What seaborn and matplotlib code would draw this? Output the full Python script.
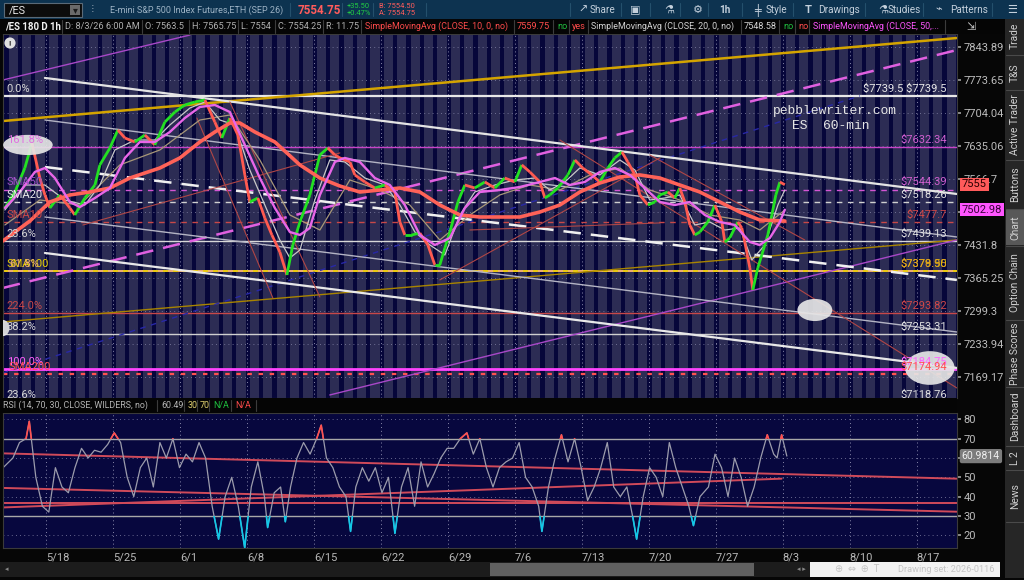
import numpy as np
import pandas as pd
import seaborn as sns
import matplotlib.pyplot as plt
from matplotlib.collections import LineCollection
from matplotlib.patches import Rectangle, Ellipse
from matplotlib.ticker import FixedLocator, FixedFormatter, NullLocator, NullFormatter

# ---------------- data ----------------
# x = trading days after Mon 5/18, prices in index points
week_days = [0, 5, 10, 15, 20, 25, 30, 35, 40, 45, 50, 55, 60, 65]
week_labels = ['5/18', '5/25', '6/1', '6/8', '6/15', '6/22', '6/29',
               '7/6', '7/13', '7/20', '7/27', '8/3', '8/10', '8/17']

# 7498.94 sits under the 7502.98 marker, so its label is left blank
price_ticks = [7843.89, 7773.65, 7704.04, 7635.06, 7566.7, 7498.94,
               7431.8, 7365.25, 7299.3, 7233.94, 7169.17]
price_tick_labels = ['7843.89', '7773.65', '7704.04', '7635.06', '7566.7', '',
                     '7431.8', '7365.25', '7299.3', '7233.94', '7169.17']

price_day = [-3.06, -2.31, -1.57, -1.04, -0.45, -0.07, 0.30, 1.04, 1.79, 2.16, 2.91, 3.66,
             4.03, 4.78, 5.37, 5.90, 6.64, 7.39, 8.13, 8.88, 9.63, 10.37, 11.12, 11.87,
             12.61, 13.13, 13.73, 14.33, 14.85, 15.22, 15.82, 16.34, 16.87, 17.46, 17.99,
             18.43, 18.96, 19.70, 20.45, 21.04, 21.57, 21.94, 22.69, 23.06, 23.81, 24.55,
             25.30, 26.04, 26.42, 26.79, 27.31, 27.91, 28.51, 29.03, 29.40, 29.78, 30.15,
             30.75, 31.27, 32.01, 32.76, 33.51, 34.25, 35.00, 35.52, 36.12, 36.87, 37.24,
             37.61, 38.21, 38.96, 39.48, 40.07, 40.75, 41.34, 41.94, 42.46, 42.99, 43.43,
             43.96, 44.33, 44.93, 45.45, 45.82, 46.42, 46.94, 47.31, 47.69, 48.06, 48.43,
             48.81, 49.40, 49.93, 50.45, 50.67, 51.04, 51.64, 51.94, 52.16, 52.54, 52.76,
             53.13, 53.43, 53.88, 54.18, 54.48, 54.78, 55.15]
price_close = [7506.5, 7539.3, 7588.8, 7640.7, 7568.1, 7533.2, 7506.5, 7533.2, 7506.5, 7492.2,
               7527.0, 7553.7, 7595.1, 7630.3, 7667.8, 7651.1, 7642.8, 7657.4, 7636.6, 7684.5,
               7705.5, 7720.3, 7726.6, 7730.8, 7684.5, 7651.1, 7692.9, 7657.4, 7574.4, 7518.8,
               7527.0, 7486.1, 7451.5, 7417.0, 7370.7, 7431.2, 7477.9, 7533.2, 7615.8, 7630.3,
               7615.8, 7609.6, 7601.3, 7574.4, 7559.9, 7547.5, 7553.7, 7539.3, 7477.9, 7451.5,
               7451.5, 7455.5, 7431.2, 7390.8, 7390.8, 7425.1, 7457.5, 7518.8, 7553.7, 7547.5,
               7559.9, 7547.5, 7568.1, 7559.9, 7595.1, 7580.6, 7559.9, 7527.0, 7533.2, 7547.5,
               7574.4, 7605.4, 7588.8, 7574.4, 7559.9, 7588.8, 7609.6, 7622.0, 7601.3, 7574.4,
               7533.2, 7512.6, 7518.8, 7533.2, 7539.3, 7527.0, 7547.5, 7518.8, 7471.8, 7451.5,
               7457.5, 7477.9, 7512.6, 7477.9, 7437.2, 7445.4, 7477.9, 7465.7, 7437.2, 7384.7,
               7340.6, 7384.7, 7411.0, 7451.5, 7492.2, 7533.2, 7559.9, 7554.25]

ma_thick_day = [-3.21, -1.19, 0.30, 1.79, 3.28, 4.78, 6.27, 8.51, 10.00, 11.49, 12.61, 13.73,
                14.48, 15.60, 17.09, 18.96, 20.45, 21.94, 23.43, 24.93, 26.42, 27.91, 29.40,
                30.90, 32.39, 33.88, 35.37, 36.87, 38.36, 39.85, 41.34, 42.84, 44.33, 45.82,
                47.31, 48.81, 50.30, 51.79, 53.28, 55.15]
ma_thick_val = [7439.3, 7480.0, 7518.8, 7533.2, 7539.3, 7547.5, 7568.1, 7588.8, 7609.6, 7642.8,
                7663.6, 7682.4, 7682.4, 7663.6, 7642.8, 7595.1, 7568.1, 7551.6, 7539.3, 7543.4,
                7547.5, 7539.3, 7512.6, 7492.2, 7488.1, 7488.1, 7488.1, 7498.3, 7512.6, 7539.3,
                7557.8, 7570.2, 7574.4, 7568.1, 7553.7, 7539.3, 7518.8, 7498.3, 7482.0, 7480.0]

ma_pink_day = [-3.06, -1.94, -0.82, -0.07, 0.67, 1.79, 2.54, 3.66, 4.78, 5.90, 7.01, 8.13, 9.25,
               10.37, 11.49, 12.61, 13.73, 14.85, 15.97, 17.09, 18.21, 18.96, 19.70, 20.45,
               21.57, 22.31, 23.43, 24.55, 25.67, 26.79, 27.91, 29.03, 30.15, 31.27, 32.39,
               33.88, 35.37, 36.87, 37.99, 39.10, 40.22, 41.34, 42.46, 43.58, 44.70, 45.82,
               46.94, 48.06, 49.18, 50.30, 51.42, 52.54, 53.28, 54.03, 54.78, 55.15]
ma_pink_val = [7506.5, 7539.3, 7580.6, 7588.8, 7568.1, 7518.8, 7508.5, 7527.0, 7547.5, 7609.6,
               7642.8, 7642.8, 7663.6, 7692.9, 7716.0, 7720.3, 7705.5, 7636.6, 7568.1, 7506.5,
               7457.5, 7451.5, 7465.7, 7533.2, 7601.3, 7609.6, 7601.3, 7568.1, 7553.7, 7512.6,
               7451.5, 7431.2, 7445.4, 7506.5, 7539.3, 7543.4, 7549.6, 7559.9, 7568.1, 7553.7,
               7559.9, 7580.6, 7588.8, 7574.4, 7547.5, 7518.8, 7512.6, 7518.8, 7492.2, 7477.9,
               7471.8, 7437.2, 7431.2, 7445.4, 7477.9, 7502.98]

ma_gray_day = [-3.06, -1.57, -0.07, 1.42, 2.91, 4.03, 5.15, 6.64, 8.13, 9.25, 10.75, 11.87,
               12.99, 14.10, 15.22, 16.34, 17.46, 18.21, 18.96, 20.07, 21.19, 22.31, 23.81,
               25.30, 26.42, 27.54, 28.66, 29.78, 30.90, 32.01, 33.51, 35.00, 36.49, 37.61,
               38.73, 39.85, 41.34, 42.84, 43.96, 45.07, 46.19, 47.31, 48.43, 49.55, 50.67,
               51.79, 52.69, 53.66, 54.63, 55.15]
ma_gray_val = [7502.4, 7553.7, 7553.7, 7522.9, 7512.6, 7553.7, 7626.2, 7646.9, 7646.9, 7678.2,
               7713.9, 7726.6, 7688.7, 7678.2, 7584.7, 7512.6, 7441.3, 7405.0, 7421.0, 7522.9,
               7605.4, 7601.3, 7568.1, 7553.7, 7512.6, 7457.5, 7431.2, 7411.0, 7492.2, 7539.3,
               7553.7, 7564.0, 7568.1, 7543.4, 7559.9, 7588.8, 7574.4, 7605.4, 7584.7, 7522.9,
               7527.0, 7533.2, 7471.8, 7477.9, 7461.6, 7465.7, 7400.9, 7431.2, 7512.6, 7543.4]

ma_tan_day = [-3.06, -0.45, 2.54, 5.52, 8.51, 11.49, 13.73, 15.97, 18.21, 20.45, 22.69, 24.93,
              27.16, 29.40, 31.64, 33.88, 36.12, 38.36, 40.60, 42.84, 45.07, 47.31, 49.55,
              51.79, 53.28, 55.15]
ma_tan_val = [7471.8, 7522.9, 7512.6, 7595.1, 7626.2, 7688.7, 7699.2, 7605.4, 7492.2, 7461.6,
              7564.0, 7543.4, 7512.6, 7441.3, 7492.2, 7533.2, 7553.7, 7543.4, 7574.4, 7588.8,
              7543.4, 7522.9, 7492.2, 7482.0, 7461.6, 7502.4]

# horizontal price levels (right label, left label)
level_price = [7739.5, 7632.34, 7544.39, 7518.26, 7477.7, 7439.13, 7379.5, 7378.95,
               7293.82, 7253.31, 7184.75, 7174.94, 7118.76]
level_right = [r'\$7739.5 \$7739.5', r'\$7632.34', r'\$7544.39', r'\$7518.26', r'\$7477.7',
               r'\$7439.13', r'\$7379.50', r'\$7378.95', r'\$7293.82', r'\$7253.31',
               r'\$7184.75', r'\$7174.94', r'\$7118.76']
level_left = ['0.0%', '161.8%', 'SMA50', 'SMA20', 'SMA10', '23.6%', 'SMA100', '61.8%',
              '224.0%', '38.2%', '100.0%', 'SMA200', '23.6%']

# drawn trend lines: start (day, price) -> end (day, price)
trend_d0 = [-3.21, -3.21, -3.21, -3.21, 21.19, -3.21, -0.07, -0.07, -0.07, -0.07, -0.07,
            11.27, 13.73, 2.76, 29.40, 38.36, 45.07, 31.64]
trend_p0 = [7686.6, 7276.9, 7773.0, 7344.6, 7133.5, 7176.4, 7777.4, 7688.7, 7590.9, 7488.1,
            7415.0, 7692.9, 7726.6, 7471.8, 7360.7, 7646.9, 7615.8, 7461.6]
trend_d1 = [67.99, 67.99, 10.75, 67.99, 67.99, 60.75, 67.99, 67.99, 67.99, 67.99, 67.99,
            16.94, 20.45, 21.94, 45.82, 67.99, 56.64, 45.82]
trend_p1 = [7862.5, 7441.3, 7868.9, 7836.8, 7441.3, 7739.5, 7535.2, 7447.4, 7360.7, 7257.0,
            7186.2, 7324.6, 7326.6, 7620.0, 7609.6, 7147.1, 7441.3, 7476.0]

# marked spots (white ovals)
oval_day = [-1.34, 57.39, 65.97, -3.21]
oval_price = [7636.6, 7300.7, 7186.2, 7264.9]

# RSI(14)
rsi_day = [-3.19, -2.46, -1.97, -1.48, -1.24, -0.75, -0.26, 0.22, 0.71, 1.20,
           1.68, 2.17, 2.66, 3.15, 3.63, 4.12, 4.61, 5.10, 5.58, 6.07,
           6.56, 7.05, 7.53, 8.02, 8.51, 8.99, 9.48, 9.97, 10.46, 10.94,
           11.43, 11.92, 12.41, 12.89, 13.38, 13.87, 14.36, 14.84, 15.33, 15.82,
           16.31, 16.55, 17.04, 17.52, 17.87, 18.26, 18.74, 19.23, 19.72, 20.21,
           20.55, 20.94, 21.42, 21.91, 22.40, 22.74, 23.13, 23.62, 24.10, 24.59,
           25.08, 25.57, 26.05, 26.54, 27.03, 27.52, 28.00, 28.49, 28.98, 29.47,
           29.95, 30.44, 30.93, 31.42, 31.90, 32.39, 32.88, 33.37, 33.85, 34.34,
           34.83, 35.32, 35.80, 36.29, 36.78, 37.02, 37.51, 38.00, 38.48, 38.97,
           39.46, 39.95, 40.43, 40.92, 41.41, 41.90, 42.38, 42.87, 43.36, 43.84,
           44.09, 44.58, 45.06, 45.55, 46.04, 46.53, 47.01, 47.50, 47.99, 48.33,
           48.82, 49.45, 49.94, 50.43, 50.91, 51.40, 51.89, 52.37, 52.86, 53.35,
           53.84, 54.32, 54.57, 54.91, 55.30]
rsi_val = [55, 60, 68, 70, 79, 50, 35, 32, 55, 45,
           42, 55, 65, 60, 64, 63, 67, 73, 68, 50,
           40, 55, 60, 45, 68, 60, 70, 55, 62, 58,
           68, 60, 35, 18, 40, 50, 35, 13.5, 45, 58,
           40, 24, 42, 45, 27, 45, 60, 68, 62, 70,
           77, 60, 55, 45, 40, 22, 45, 55, 48, 55,
           42, 50, 21, 45, 55, 35, 58, 45, 52, 60,
           65, 65, 70, 73, 62, 70, 55, 45, 55, 58,
           60, 68, 50, 45, 35, 22, 45, 60, 72, 58,
           70, 55, 38, 45, 55, 68, 45, 40, 45, 28,
           18, 40, 55, 50, 40, 68, 55, 45, 35, 25,
           40, 45, 62, 55, 40, 60, 50, 35, 45, 60,
           72, 62, 60, 72, 61]
rsi_last = 60.9814
rsi_ticks = [20, 30, 40, 50, 60, 70, 80]
rsi_tick_labels = ['20', '30', '40', '50', '', '70', '80']   # 60 hidden by the value box
rsi_trend_d0 = [-3.19, -3.19, -3.19, -3.19]
rsi_trend_v0 = [62.4, 44.5, 34.4, 36.5]
rsi_trend_d1 = [67.97, 67.97, 54.91, 67.97]
rsi_trend_v1 = [49.3, 32.2, 49.3, 36.5]

# ---------------- styling ----------------
sns.set_theme(style="dark")
plt.rcParams['font.family'] = ['Roboto', 'DejaVu Sans']

W, H = 1024, 580
fig = plt.figure(figsize=(W / 100, H / 100), dpi=100, facecolor='#060606')


def frect(x0, y0, x1, y1, fc, ec='none', lw=0, z=1):
    fig.add_artist(Rectangle((x0 / W, 1 - y1 / H), (x1 - x0) / W, (y1 - y0) / H,
                             transform=fig.transFigure, fc=fc, ec=ec, lw=lw, zorder=z))


def fline(x0, y0, x1, y1, color, lw=0.8):
    fig.add_artist(plt.Line2D([x0 / W, x1 / W], [1 - y0 / H, 1 - y1 / H],
                              transform=fig.transFigure, color=color, lw=lw, zorder=2))


def ftext(x, y, s, **kw):
    kw.setdefault('va', 'center')
    kw.setdefault('fontsize', 7)
    kw.setdefault('color', '#b4b4b4')
    fig.text(x / W, 1 - y / H, s, **kw)


main = fig.add_axes([3 / W, 1 - 398 / H, 954 / W, 364 / H])
rsi = fig.add_axes([3 / W, 1 - 548 / H, 954 / W, 135 / H])

# ---- main price panel ----
main.set_facecolor('#2c2c54')
main.set_yscale('log')
main.set_xlim(-3.2, 68.0)
main.set_ylim(7127.6, 7871.1)
for d in range(-4, 69):
    main.axvspan(d - 0.1, d + 0.22, color='#06063a', lw=0, zorder=0)
for d in week_days:
    main.axvline(d, color='#8888aa', ls=(0, (1, 3)), lw=0.7, zorder=0.5)
    rsi.axvline(d, color='#8888aa', ls=(0, (1, 3)), lw=0.7, zorder=0.5)
for p in price_ticks:
    main.axhline(p, color='#8888aa', ls=(0, (1, 4)), lw=0.6, zorder=0.5)

level_style = [('#e8e8e8', '-', 1.6), ('#c844c8', '-', 1.0), ('#d455d4', (0, (4, 4)), 1.0),
               ('#d0d0d0', (0, (4, 4)), 1.0), ('#c84848', (0, (4, 4)), 1.0), ('#d8d8d8', '-', 1.0),
               ('#f4b070', '-', 1.4), ('#e8d000', (0, (3, 3)), 1.2), ('#c84848', '-', 1.0),
               ('#d0d0d0', '-', 1.0), ('#ff44ff', '-', 2.0), ('#ff5050', (0, (2, 3)), 1.6),
               ('#e0e0e0', '-', 1.0)]
right_col = ['#e8e8e8', '#d060d0', '#d060d0', '#e0e0e0', '#d04848', '#e0e0e0', '#e8c800',
             '#e0a020', '#d04848', '#e0e0e0', '#ff66ff', '#ff5050', '#e0e0e0']
left_col = ['#d8d8d8', '#e070e0', '#a050c8', '#e8e8e8', '#c84848', '#d8d8d8', '#e8d000',
            '#f0b070', '#c84848', '#d8d8d8', '#ff60ff', '#ff5050', '#d8d8d8']
ytr = main.get_yaxis_transform()
for i, p in enumerate(level_price):
    c, ls, lw = level_style[i]
    main.axhline(p, color=c, ls=ls, lw=lw, zorder=2)
    main.annotate(level_right[i], xy=(0.9895, p), xycoords=ytr, xytext=(0, 1.5),
                  textcoords='offset points', ha='right', va='bottom', fontsize=8,
                  color=right_col[i], zorder=6, annotation_clip=False, clip_on=True)
    dx = 1.5 if level_left[i] in ('61.8%', 'SMA200') else 0
    main.annotate(level_left[i], xy=(0.004, p), xycoords=ytr, xytext=(dx, 1.5),
                  textcoords='offset points', ha='left', va='bottom', fontsize=8,
                  color=left_col[i], zorder=6, annotation_clip=False, clip_on=True)

trend_style = [('#d4a400', '-', 1.8), ('#a88400', '-', 1.0), ('#a848c8', '-', 1.0),
               ('#e060e0', (0, (7, 4)), 1.8), ('#a848c8', '-', 1.0), ('#2828a8', (0, (4, 4)), 1.0),
               ('#e4e4e4', '-', 1.6), ('#b4b4c4', '-', 1.0), ('#f0f0f0', (0, (7, 4)), 1.8),
               ('#b4b4c4', '-', 1.0), ('#e8e8e8', '-', 1.6)] + [('#b04646', '-', 0.8)] * 7
for i in range(len(trend_d0)):
    c, ls, lw = trend_style[i]
    main.plot([trend_d0[i], trend_d1[i]], [trend_p0[i], trend_p1[i]], color=c, ls=ls, lw=lw,
              zorder=2.2)

# moving averages
sns.lineplot(x=ma_tan_day, y=ma_tan_val, ax=main, color='#a89878', lw=0.9, zorder=3)
sns.lineplot(x=ma_gray_day, y=ma_gray_val, ax=main, color='#c8c8c8', lw=0.9, zorder=3)

# price path drawn as up/down coloured strokes
pts = np.column_stack([price_day, price_close])
segs = np.stack([pts[:-1], pts[1:]], axis=1)
up = np.diff(price_close) >= 0
cols = np.where(up, '#22e022', '#ff5a50')
main.add_collection(LineCollection(segs, colors=cols, lw=2.0, zorder=3.2))

sns.lineplot(x=ma_thick_day, y=ma_thick_val, ax=main, color='#ff6258', lw=2.6, zorder=3.5)
sns.lineplot(x=ma_pink_day, y=ma_pink_val, ax=main, color='#e866e8', lw=1.7, zorder=3.6)

oval_w = [3.7, 2.6, 3.7, 1.0]
oval_h = [42, 44, 66, 32]
for i in range(len(oval_day)):
    main.add_patch(Ellipse((oval_day[i], oval_price[i]), oval_w[i], oval_h[i],
                           fc='#e6e6e6', ec='none', alpha=0.92, zorder=4))

main.set_xticks(week_days)
main.tick_params(axis='x', labelbottom=False, length=0)
main.yaxis.tick_right()
main.yaxis.set_major_locator(FixedLocator(price_ticks))
main.yaxis.set_major_formatter(FixedFormatter(price_tick_labels))
main.yaxis.set_minor_locator(NullLocator())
main.yaxis.set_minor_formatter(NullFormatter())
main.tick_params(axis='y', colors='#9a9a9a', labelcolor='#bcbcbc', labelsize=8,
                 length=3, pad=1.5)
main.set_xlabel('')
main.set_ylabel('')
for s in main.spines.values():
    s.set_color('#3a3a3a')
    s.set_linewidth(0.8)

main.annotate('7555', xy=(1.0, 7555), xycoords=ytr, xytext=(3.5, 0), textcoords='offset points',
              ha='left', va='center', fontsize=8, color='#2a0000', annotation_clip=False,
              bbox=dict(boxstyle='square,pad=0.15', fc='#ff5a5a', ec='none'), zorder=7)
main.annotate('7502.98', xy=(1.0, 7502.98), xycoords=ytr, xytext=(3.5, 0),
              textcoords='offset points', ha='left', va='center', fontsize=8,
              color='#3a003a', annotation_clip=False,
              bbox=dict(boxstyle='square,pad=0.15', fc='#ff55ff', ec='none'), zorder=7)

ftext(835, 111, 'pebblewriter.com', family='Liberation Mono', fontsize=9.4,
      color='#e6e6e6', ha='center')
ftext(831, 126, 'ES  60-min', family='Liberation Mono', fontsize=9.4,
      color='#e6e6e6', ha='center')
ftext(10, 43, '!', ha='center', fontsize=6, color='#333333', weight='bold',
      bbox=dict(boxstyle='circle,pad=0.25', fc='#e0e0e0', ec='none'))

# ---- RSI panel ----
rsi.set_facecolor('#07073e')
rsi.set_xlim(-3.2, 68.0)
rsi.set_ylim(13.4, 83.3)
for v in (20, 40, 50, 60, 80):
    rsi.axhline(v, color='#8888aa', ls=(0, (1, 4)), lw=0.6, zorder=0.5)
rsi.axhline(70, color='#a8a8a8', lw=1.0, zorder=1)
rsi.axhline(30, color='#a8a8a8', lw=1.0, zorder=1)
for i in range(len(rsi_trend_d0)):
    rsi.plot([rsi_trend_d0[i], rsi_trend_d1[i]], [rsi_trend_v0[i], rsi_trend_v1[i]],
             color='#d04a5a', lw=1.4, zorder=1.5)
sns.lineplot(x=rsi_day, y=rsi_val, ax=rsi, color='#9c9cac', lw=0.9, zorder=2)
for lo, hi, col in [(70, 100, '#ff5050'), (0, 30, '#10c8e8')]:
    sns.lineplot(x=rsi_day, y=rsi_val, ax=rsi, color=col, lw=1.2, zorder=2.5)
    rsi.lines[-1].set_clip_path(Rectangle((-10, lo), 100, hi - lo, transform=rsi.transData))

rsi.set_xticks(week_days)
rsi.set_xticklabels(week_labels, ha='left')
rsi.tick_params(axis='x', colors='#b8b8b8', labelsize=8, length=0, pad=3)
rsi.yaxis.tick_right()
rsi.set_yticks(rsi_ticks)
rsi.set_yticklabels(rsi_tick_labels)
rsi.tick_params(axis='y', colors='#9a9a9a', labelcolor='#bcbcbc', labelsize=8,
                length=3, pad=1.5)
rsi.set_xlabel('')
rsi.set_ylabel('')
for s in rsi.spines.values():
    s.set_color('#3a3a3a')
    s.set_linewidth(0.8)
rsi.annotate(f'{rsi_last:.4f}', xy=(1.0, rsi_last), xycoords=rsi.get_yaxis_transform(),
             xytext=(3.5, 0), textcoords='offset points', ha='left', va='center',
             fontsize=7.6, color='#f0f0f0', annotation_clip=False,
             bbox=dict(boxstyle='round,pad=0.2', fc='#7c7c7c', ec='none'), zorder=7)

# ---------------- window chrome ----------------
frect(0, 0, W, 19, '#0d3350')
frect(0, 19, 1005, 34, '#050505')
frect(0, 398, 957, 413, '#050505')
frect(1005, 19, W, 578, '#262626')

# top bar
frect(4, 3, 82, 17, '#0c0c0c', ec='#5a6a78', lw=0.8, z=2)
frect(70, 5, 80, 15, '#6a6a6a', z=2)
ftext(9, 10, '/ES', color='#e8e8e8', fontsize=7.8)
ftext(75, 10, '▾', color='#1a1a1a', fontsize=7, ha='center')
ftext(93, 10, '⁝', color='#9aaab8', fontsize=8, ha='center')
ftext(110, 10, 'E-mini S&P 500 Index Futures,ETH (SEP 26)', color='#9cb2c4', fontsize=6.5)
ftext(298, 10, '7554.75', color='#ff5c5c', fontsize=8.4, weight='bold')
ftext(347, 6, '+35.50', color='#22cc44', fontsize=5.4)
ftext(347, 13.5, '+0.47%', color='#22cc44', fontsize=5.4)
ftext(379, 6, 'B: 7554.50', color='#ff5c5c', fontsize=5.4)
ftext(379, 13.5, 'A: 7554.75', color='#ff5c5c', fontsize=5.4)
for x in (290, 342, 373, 426, 570, 621, 650, 680, 708, 742, 793, 865, 923, 992):
    fline(x, 3, x, 16, '#24506c')
tb = [(578, '↗'), (590, 'Share'), (630, '▣'), (664, '⚗'), (693, '⚙'), (719, '1h'),
      (754, '╪'), (766, 'Style'), (805, 'T'), (818, 'Drawings'), (878, '⚗'), (888, 'Studies'),
      (935, '⌁'), (950, 'Patterns'), (1007, '☰')]
for x, s in tb:
    ftext(x, 10, s, color='#c4d0dc', fontsize=7.2 if len(s) > 1 else 8,
          weight='bold' if s in ('T', '1h') else 'normal')

# study header row
hdr = [(5, '/ES 180 D 1h', '#f0f0f0', 'bold', 6.9), (65, 'D: 8/3/26 6:00 AM', '#b0b0b0', 'normal', 6.6),
       (145, 'O: 7563.5', '#b0b0b0', 'normal', 6.6), (192, 'H: 7565.75', '#b0b0b0', 'normal', 6.6),
       (241, 'L: 7554', '#b0b0b0', 'normal', 6.6), (278, 'C: 7554.25', '#b0b0b0', 'normal', 6.6),
       (326, 'R: 11.75', '#b0b0b0', 'normal', 6.6),
       (365, 'SimpleMovingAvg (CLOSE, 10, 0, no)', '#ff4c4c', 'normal', 6.4),
       (517, '7559.75', '#ff4c4c', 'normal', 6.6), (557, 'no', '#20c040', 'normal', 6.6),
       (572, 'yes', '#ff4c4c', 'normal', 6.6),
       (591, 'SimpleMovingAvg (CLOSE, 20, 0, no)', '#d4d4d4', 'normal', 6.4),
       (744, '7548.58', '#d4d4d4', 'normal', 6.6), (783, 'no', '#20c040', 'normal', 6.6),
       (798, 'no', '#ff4c4c', 'normal', 6.6),
       (813, 'SimpleMovingAvg (CLOSE, 50,...', '#ff55ff', 'normal', 6.4)]
for x, s, c, w, fs in hdr:
    ftext(x, 26.5, s, color=c, fontsize=fs, weight=w)
for x in (62, 142, 189, 238, 275, 323, 361, 514, 553, 569, 588, 741, 779, 795, 809, 945):
    fline(x, 20, x, 33, '#3c3c3c')
ftext(966, 26.5, '⇲', color='#c8c8c8', fontsize=8)

# RSI header row
rsi_hdr = [(3, 'RSI (14, 70, 30, CLOSE, WILDERS, no)', '#b4b4b4'), (161, '60.49', '#b4b4b4'),
           (188, '30', '#e0d070'), (200, '70', '#e0d070'), (213, 'N/A', '#20c040'),
           (235, 'N/A', '#ff4c4c')]
for x, s, c in rsi_hdr:
    ftext(x, 405.5, s, color=c, fontsize=6.4)
for x in (157, 184, 197, 209, 231, 256):
    fline(x, 400, x, 411, '#3c3c3c')

# right hand tabs
tabs = [(17, 55, 'Trade'), (55, 90, 'T&S'), (90, 160, 'Active Trader'), (160, 209, 'Buttons'),
        (209, 246, 'Chart'), (246, 320, 'Option Chain'), (320, 387, 'Phase Scores'),
        (387, 446, 'Dashboard'), (446, 470, 'L 2'), (470, 522, 'News')]
for y0, y1, s in tabs:
    if s == 'Chart':
        frect(1006, y0 + 1, W, y1 - 1, '#585858', z=1.5)
    fline(1006, y1, W, y1, '#4a4a4a')
    ftext(1015, (y0 + y1) / 2, s, rotation=90, ha='center', color='#cfcfcf', fontsize=7.4)

# bottom scroll bar
frect(0, 562, 810, 577, '#1c1c1c')
frect(490, 563, 754, 576, '#606060', z=1.5)
frect(810, 562, 1000, 577, '#f2f2f2')
ftext(5, 569.5, '◂', color='#888888', fontsize=5)
ftext(797, 569.5, '◂ ▸', color='#888888', fontsize=5)
ftext(835, 569.5, '⊕  ⇔  ⊕  T', color='#c4c4c4', fontsize=7)
ftext(995, 569.5, 'Drawing set: 2026-0116', color='#c4c4c4', fontsize=6.6, ha='right')

fig.savefig('out.png', dpi=100, facecolor=fig.get_facecolor())
